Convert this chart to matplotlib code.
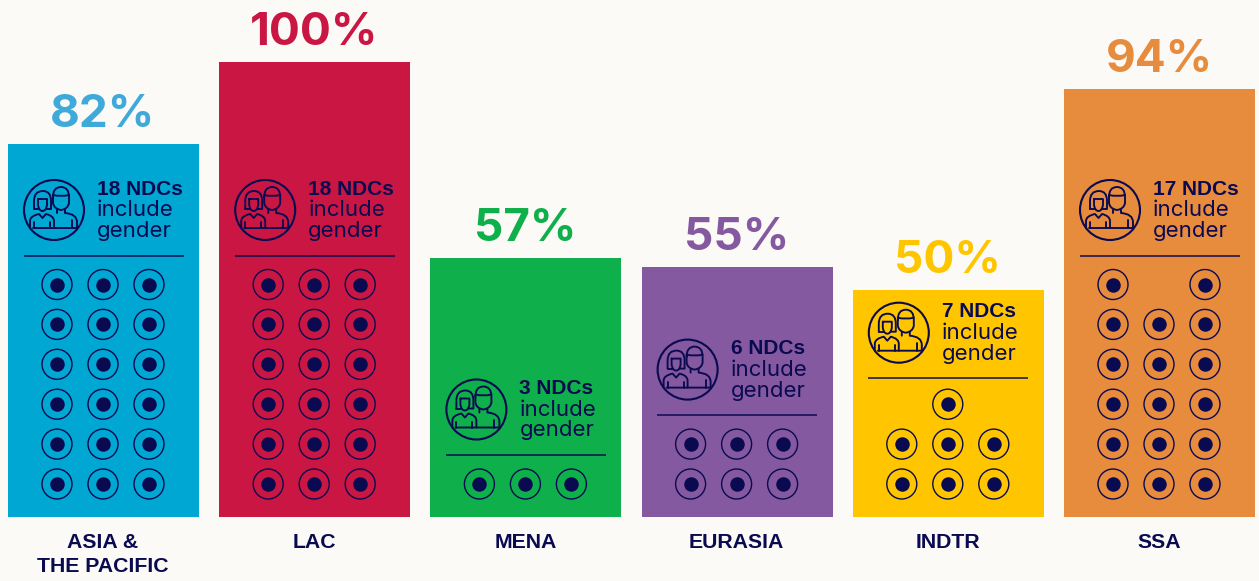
import matplotlib
matplotlib.use("Agg")
import matplotlib.pyplot as plt
from matplotlib.patches import Ellipse, PathPatch
from matplotlib.path import Path

regions = ["ASIA &\nTHE PACIFIC", "LAC", "MENA", "EURASIA", "INDTR", "SSA"]
shares = [82, 100, 57, 55, 50, 94]
ndcs = [18, 18, 3, 6, 7, 17]
bar_colors = ["#00A7D3", "#CA1643", "#0FAF4B", "#85599F", "#FFC600", "#E78B3D"]
label_colors = ["#3FAAD9", "#CA1643", "#0FAF4B", "#85599F", "#FFC600", "#E78B3D"]
NAVY = "#0A0A50"
BG = "#FCFAF6"
W, H = 1259, 581
plt.rcParams["font.family"] = ["Liberation Sans", "DejaVu Sans"]

fig = plt.figure(figsize=(W / 100, H / 100), dpi=100, facecolor=BG)
ax = fig.add_axes([0, 0, 1, 1], facecolor=BG)
SX, SY = 211.2, 4.55
ax.set_xlim(-103.5 / SX, (W - 103.5) / SX)
ax.set_ylim(-(H - 517) / SY, 517 / SY)
ax.axis("off")
PT = 0.72


def X(i, dx):
    return i + dx / SX


def Y(base, dy):
    """dy in pixels, positive downward, from a base value"""
    return base - dy / SY


def curve(i, base, cx, pts, lw=1.9):
    verts, codes = [], []
    for p in pts:
        if p[0] == "M":
            verts.append((X(i, cx + p[1]), Y(base, p[2])))
            codes.append(Path.MOVETO)
        elif p[0] == "L":
            verts.append((X(i, cx + p[1]), Y(base, p[2])))
            codes.append(Path.LINETO)
        else:
            verts += [(X(i, cx + p[1]), Y(base, p[2])), (X(i, cx + p[3]), Y(base, p[4]))]
            codes += [Path.CURVE3, Path.CURVE3]
    ax.add_patch(PathPatch(Path(verts, codes), fill=False, ec=NAVY, lw=lw * PT, zorder=5,
                           capstyle="round", joinstyle="round"))


def icon(i, base):
    cx = -49.5
    ax.add_patch(Ellipse((X(i, cx), base), 60 / SX, 60 / SY, fill=False, ec=NAVY, lw=2.1 * PT, zorder=5))
    # man: head with hair line
    curve(i, base, cx, [("M", -1, -13), ("Q", -1, -23, 7, -23), ("Q", 15, -23, 15, -13), ("L", 15, -7),
                        ("Q", 14, -1, 7, 0), ("Q", 0, -1, -1, -7), ("L", -1, -13)])
    curve(i, base, cx, [("M", -1, -15), ("Q", 7, -13, 15, -15)])
    # man: shoulders, arm and base
    curve(i, base, cx, [("M", 3, 0), ("L", 3, 3), ("M", 11, 0), ("L", 11, 3), ("Q", 23, 4, 23, 12),
                        ("L", 23, 18), ("L", -21, 18)])
    curve(i, base, cx, [("M", 18, 10), ("L", 18, 18)])
    # woman: hair
    curve(i, base, cx, [("M", -20, -1), ("L", -20, -9), ("Q", -20, -19, -11, -19), ("Q", -3, -19, -3, -9), ("L", -3, -1), ("L", -8, -1)])
    curve(i, base, cx, [("M", -20, -1), ("L", -15, -1)])
    # woman: face
    curve(i, base, cx, [("M", -16, -11), ("L", -7, -11), ("L", -7, -5), ("Q", -8, 1, -11.5, 1),
                        ("Q", -15, 1, -16, -5), ("L", -16, -11)])
    # woman: body
    curve(i, base, cx, [("M", -24, 18), ("L", -24, 11), ("Q", -24, 6, -15, 4), ("L", -11.5, 8), ("L", -8, 4),
                        ("Q", 0, 6, 0, 11), ("L", 0, 18)])
    curve(i, base, cx, [("M", -20, 12), ("L", -20, 18), ("M", -4, 12), ("L", -4, 18)])


ax.bar(range(len(regions)), shares, width=191 / SX, color=bar_colors, linewidth=0, zorder=1)

for i, (region, share, n, lc) in enumerate(zip(regions, shares, ndcs, label_colors)):
    ax.text(X(i, -0.5), Y(share, -29), f"{share}%", ha="center", va="center", fontsize=33,
            family=["Inter", "DejaVu Sans"], fontweight="bold", color=lc, zorder=6)
    ax.text(X(i, -0.5), Y(0, 16), region, ha="center", va="top", fontsize=15.3, fontweight="bold",
            color=NAVY, linespacing=1.3, zorder=6)
    nrows = (n + 2) // 3
    for r in range(nrows):
        cols = [0, 1, 2]
        if n % 3 and r == nrows - 1:
            cols = [1] if n % 3 == 1 else [0, 2]
        for c in cols:
            xx, yy = X(i, (c - 1) * 46 - 0.5), Y(0, -33 - r * 39.9)
            ax.scatter(xx, yy, s=(30 * PT) ** 2, facecolor="none", edgecolor=NAVY, linewidth=1.4 * PT, zorder=4)
            ax.scatter(xx, yy, s=(14.5 * PT) ** 2, color=NAVY, linewidth=0, zorder=4)
    top = Y(0, -33 - (nrows - 1) * 39.9)
    line_y = Y(top, -29 + (3 if n % 3 == 1 else 0))
    ax.plot([X(i, -80), X(i, 80)], [line_y, line_y], color=NAVY, lw=1.5 * PT, zorder=4, solid_capstyle="butt")
    icon(i, Y(line_y, -45.5))
    tx = X(i, -6.5)
    ax.text(tx, Y(line_y, -66.5), f"{n} NDCs", ha="left", va="center", fontsize=15, fontweight="bold", color=NAVY, zorder=6)
    ax.text(tx, Y(line_y, -45.5), "include", ha="left", va="center", fontsize=16,
            family=["Inter", "DejaVu Sans"], color=NAVY, zorder=6)
    ax.text(tx, Y(line_y, -24.5), "gender", ha="left", va="center", fontsize=16,
            family=["Inter", "DejaVu Sans"], color=NAVY, zorder=6)

fig.savefig("out.png", dpi=100, facecolor=BG)
